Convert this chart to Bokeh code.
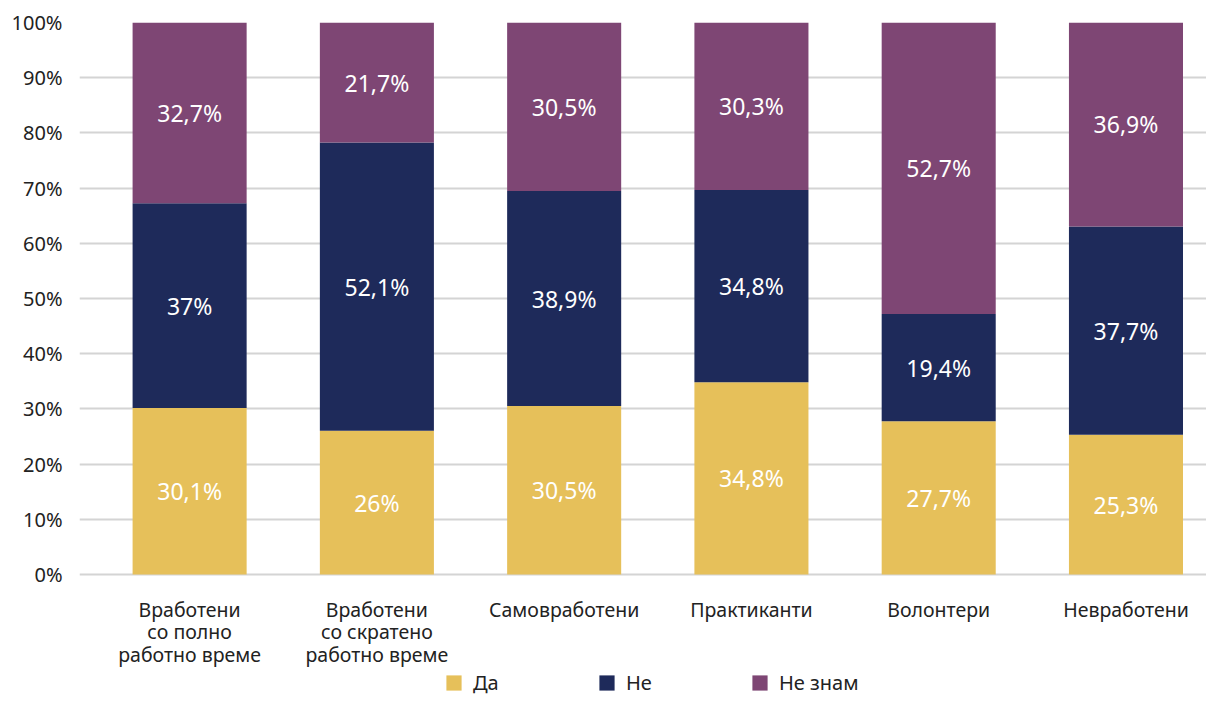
from bokeh.plotting import figure
from bokeh.models import ColumnDataSource, FixedTicker, Range1d, Legend, LegendItem
from bokeh.core.properties import value
from bokeh.embed import file_html
from bokeh.resources import INLINE

categories = ["Вработени\nсо полно\nработно време",
              "Вработени\nсо скратено\nработно време",
              "Самовработени",
              "Практиканти",
              "Волонтери",
              "Невработени"]
series_names = ["Да", "Не", "Не знам"]
da = [30.1, 26.0, 30.5, 34.8, 27.7, 25.3]
ne = [37.0, 52.1, 38.9, 34.8, 19.4, 37.7]
ne_znam = [32.7, 21.7, 30.5, 30.3, 52.7, 36.9]
y_ticks = [0, 10, 20, 30, 40, 50, 60, 70, 80, 90, 100]

colors = ["#E6C05A", "#1E2A5A", "#7E4674"]
FONT = "Noto Sans"
TEXT = "#222222"

def fmt(v):
    return f"{v:g}".replace(".", ",") + "%"

n = len(categories)
xs = list(range(n))
series = [da, ne, ne_znam]
totals = [sum(s[i] for s in series) for i in range(n)]

# frame spans the whole lower area so legend and category labels live inside it
p = figure(width=1206, height=696, output_backend="svg", toolbar_location=None,
           x_range=Range1d(-0.588, 5.43), y_range=Range1d(-22.1, 100),
           min_border_left=79, min_border_right=0, min_border_top=22,
           min_border_bottom=0)
p.outline_line_color = None
p.background_fill_color = "white"
p.border_fill_color = "white"

bottoms = [0.0] * n
renderers = []
for k, s in enumerate(series):
    scaled = [s[i] * 100.0 / totals[i] for i in range(n)]
    tops = [bottoms[i] + scaled[i] for i in range(n)]
    src = ColumnDataSource(dict(x=xs, bottom=bottoms, top=tops,
                                mid=[(bottoms[i] + tops[i]) / 2 for i in range(n)],
                                label=[fmt(v) for v in s]))
    r = p.vbar(x="x", bottom="bottom", top="top", width=0.609, source=src,
               fill_color=colors[k], line_color=None)
    renderers.append(r)
    p.text(x="x", y="mid", text="label", source=src, text_color="white",
           text_font=value(FONT), text_font_size="23px",
           text_align="center", text_baseline="middle")
    bottoms = tops

# category labels under the bars
cat_src = ColumnDataSource(dict(x=xs, y=[0] * n, text=categories))
p.text(x="x", y="y", text="text", source=cat_src, text_color=TEXT,
       text_font=value(FONT), text_font_size="19.5px", text_line_height=0.85,
       text_align="center", text_baseline="top", y_offset=21)

p.xaxis.visible = False

p.yaxis.ticker = FixedTicker(ticks=y_ticks)
p.yaxis.major_label_overrides = {t: f"{t}%" for t in y_ticks}
p.yaxis.major_label_text_font = FONT
p.yaxis.major_label_text_font_size = "20px"
p.yaxis.major_label_text_color = TEXT
p.yaxis.major_label_standoff = 11
p.yaxis.axis_line_color = None
p.yaxis.major_tick_line_color = None
p.yaxis.minor_tick_line_color = None

p.xgrid.grid_line_color = None
p.ygrid.grid_line_color = "#d4d4d4"
p.ygrid.grid_line_width = 2
p.ygrid.ticker = FixedTicker(ticks=y_ticks)

legend_x = [365, 518, 671]
for k in range(3):
    lg = Legend(items=[LegendItem(label=series_names[k], renderers=[renderers[k]])],
                location=(legend_x[k], 0), orientation="horizontal",
                padding=0, margin=0, border_line_color=None,
                background_fill_alpha=0, glyph_width=19, glyph_height=19,
                label_standoff=10, label_text_font=FONT,
                label_text_font_size="20px", label_text_color=TEXT,
                label_height=19)
    p.add_layout(lg, "center")

open("out.html", "w").write(file_html(p, INLINE))
